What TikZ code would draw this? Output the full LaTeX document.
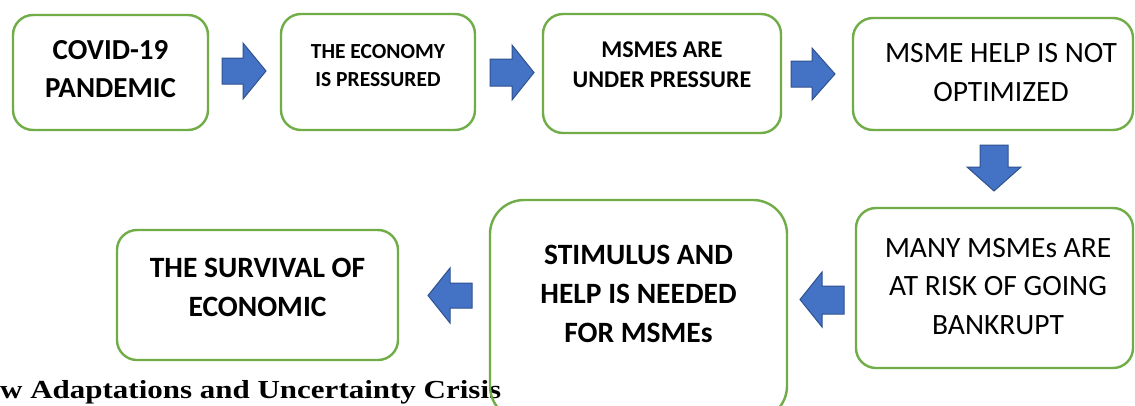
\documentclass[tikz,border=0pt]{standalone}
\usepackage{fontspec}
\setmainfont{Carlito}
\newfontfamily\capfont{Liberation Serif}
\definecolor{boxgreen}{HTML}{70AD47}
\definecolor{arrfill}{HTML}{4472C4}
\definecolor{arrdraw}{HTML}{2F528F}
\tikzset{
  box/.style={draw=boxgreen, line width=2.4pt, rounded corners=20pt, inner sep=0pt},
  bigbox/.style={box, rounded corners=34pt},
  txtb/.style={font=\bfseries, align=center, inner sep=0pt},
  txtr/.style={align=center, inner sep=0pt},
  blockarrow/.style={fill=arrfill, draw=arrdraw, line width=1pt, line join=miter},
}
\begin{document}
\begin{tikzpicture}[x=1pt,y=-1pt]
\path[clip] (0,0) rectangle (1135,405);
\fill[white] (0,0) rectangle (1135,405);
% caption fragment (behind the boxes)
\node[anchor=base west, inner sep=0pt, font=\capfont\bfseries\fontsize{26}{30}\selectfont] (cap) at (0,398) {\resizebox{501pt}{\height}{w Adaptations and Uncertainty Crisis}};
% boxes
\node[box, minimum width=195pt, minimum height=115pt] (b1) at (110.5,72.5) {};
\node[box, minimum width=194pt, minimum height=116pt] (b2) at (378,72) {};
\node[box, minimum width=238pt, minimum height=119pt] (b3) at (662,73.5) {};
\node[box, minimum width=280pt, minimum height=112pt] (b4) at (993,74) {};
\node[box, minimum width=277pt, minimum height=160pt] (b5) at (994.5,288) {};
\node[bigbox, minimum width=297pt, minimum height=220pt] (b6) at (638.5,310) {};
\node[box, minimum width=281pt, minimum height=130pt] (b7) at (257.5,295) {};
% texts
\node[txtb, font=\bfseries\fontsize{29}{38}\selectfont] (t1) at (110.5,69) {COVID-19\\PANDEMIC};
\node[txtb, font=\bfseries\fontsize{21.5}{28}\selectfont] (t2) at (378,66) {THE ECONOMY\\IS PRESSURED};
\node[txtb, font=\bfseries\fontsize{24}{30}\selectfont] (t3) at (662,64.5) {MSMES ARE\\UNDER PRESSURE};
\node[txtr, font=\fontsize{29.5}{39}\selectfont] (t4) at (1001,72.5) {MSME HELP IS NOT\\OPTIMIZED};
\node[txtr, font=\fontsize{29.5}{38.5}\selectfont] (t5) at (998,286.5) {MANY MSMEs ARE\\AT RISK OF GOING\\BANKRUPT};
\node[txtb, font=\bfseries\fontsize{29.5}{39}\selectfont] (t6) at (638.5,293.5) {STIMULUS AND\\HELP IS NEEDED\\FOR MSMEs};
\node[txtb, font=\bfseries\fontsize{29.5}{39}\selectfont] (t7) at (257.5,287) {THE SURVIVAL OF\\ECONOMIC};
% block arrows (right)
\draw[blockarrow] (222,58) -- (243,58) -- (243,43) -- (266,71) -- (243,99) -- (243,84) -- (222,84) -- cycle;
\draw[blockarrow] (490,59) -- (512,59) -- (512,45) -- (534,72.5) -- (512,100) -- (512,86) -- (490,86) -- cycle;
\draw[blockarrow] (791,61) -- (812,61) -- (812,48) -- (835,74) -- (812,100) -- (812,87) -- (791,87) -- cycle;
% down arrow
\draw[blockarrow] (980,145) -- (1008,145) -- (1008,167) -- (1021,167) -- (994,191) -- (967,167) -- (980,167) -- cycle;
% left arrows
\draw[blockarrow] (844,286) -- (822,286) -- (822,272) -- (800,299.5) -- (822,327) -- (822,314) -- (844,314) -- cycle;
\draw[blockarrow] (472,283) -- (450,283) -- (450,268) -- (428,295.5) -- (450,323) -- (450,308) -- (472,308) -- cycle;
\end{tikzpicture}
\end{document}
